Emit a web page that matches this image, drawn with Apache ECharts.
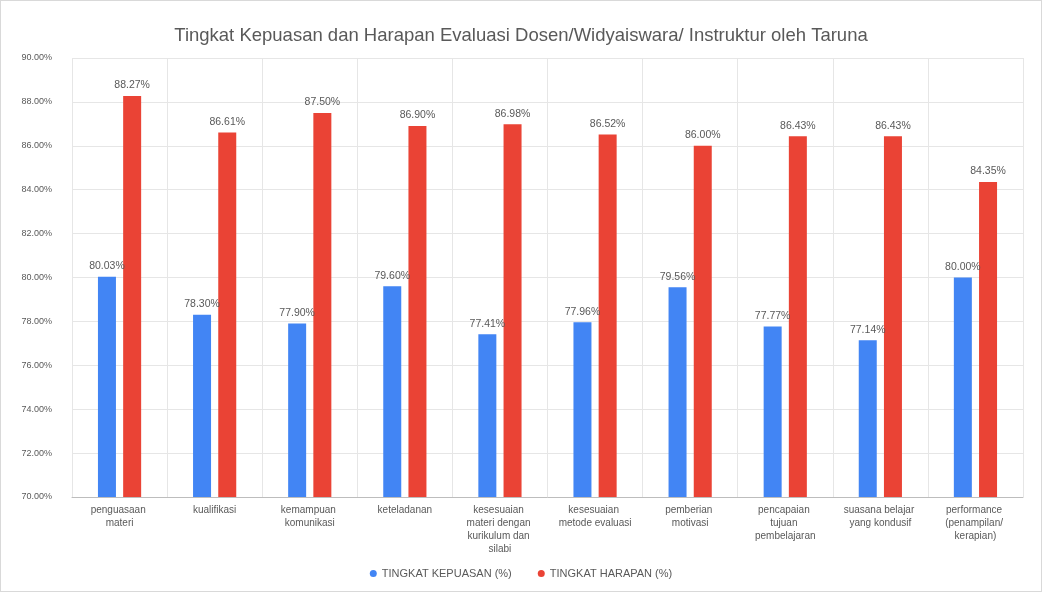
<!DOCTYPE html>
<html>
<head>
<meta charset="utf-8">
<script src="https://cdn.jsdelivr.net/npm/echarts@6/dist/echarts.min.js"></script>
<style>
  html, body { margin: 0; padding: 0; background: #fff; }
  #chart { width: 1040px; height: 590px; border: 1px solid #d9d9d9; }
</style>
</head>
<body>
<div id="chart"></div>
<script>
// data
var categories = [
    'penguasaan materi',
    'kualifikasi',
    'kemampuan komunikasi',
    'keteladanan',
    'kesesuaian materi dengan kurikulum dan silabi',
    'kesesuaian metode evaluasi',
    'pemberian motivasi',
    'pencapaian tujuan pembelajaran',
    'suasana belajar yang kondusif',
    'performance (penampilan/ kerapian)'
];
var kepuasan = [80.03, 78.30, 77.90, 79.60, 77.41, 77.96, 79.56, 77.77, 77.14, 80.00];
var harapan  = [88.27, 86.61, 87.50, 86.90, 86.98, 86.52, 86.00, 86.43, 86.43, 84.35];
var seriesNames = ['TINGKAT KEPUASAN (%)', 'TINGKAT HARAPAN (%)'];
var yTicks = { min: 70, max: 90, step: 2 };

var font = '"Liberation Sans", Arial, sans-serif';
var myChart = echarts.init(document.getElementById('chart'));

var pct = function(v){ return Number(v).toFixed(2) + '%'; };

var option = {
    animation: false,
    textStyle: { fontFamily: font },
    title: {
        text: 'Tingkat Kepuasan dan Harapan Evaluasi Dosen/Widyaiswara/ Instruktur oleh Taruna',
        left: 'center',
        top: 20,
        textStyle: { fontSize: 18.5, fontWeight: 'normal', color: '#595959', fontFamily: font }
    },
    legend: {
        bottom: 7,
        left: 'center',
        icon: 'circle',
        itemWidth: 7,
        itemHeight: 7,
        itemGap: 26,
        textStyle: { fontSize: 11, color: '#595959' },
        data: seriesNames
    },
    grid: { left: 71, right: 18, top: 57, bottom: 94 },
    xAxis: {
        type: 'category',
        data: categories,
        axisTick: { show: false },
        axisLine: { lineStyle: { color: '#bdbdbd' } },
        splitLine: { show: true, lineStyle: { color: '#e6e6e6' } },
        axisLabel: {
            interval: 0,
            fontSize: 10,
            color: '#595959',
            width: 78,
            overflow: 'break',
            lineHeight: 13,
            margin: 7
        }
    },
    yAxis: {
        type: 'value',
        min: yTicks.min,
        max: yTicks.max,
        interval: yTicks.step,
        axisLine: { show: false },
        axisTick: { show: false },
        splitLine: { lineStyle: { color: '#e6e6e6' } },
        axisLabel: {
            fontSize: 9,
            color: '#595959',
            margin: 20,
            formatter: function(v){ return pct(v); }
        }
    },
    series: [
        {
            name: seriesNames[0],
            type: 'bar',
            data: kepuasan,
            barWidth: 18,
            barGap: '40%',
            itemStyle: { color: '#4285f4' },
            label: {
                show: true,
                position: 'top',
                distance: 5,
                fontSize: 10.5,
                color: '#595959',
                formatter: function(p){ return pct(p.value); }
            }
        },
        {
            name: seriesNames[1],
            type: 'bar',
            data: harapan,
            barWidth: 18,
            itemStyle: { color: '#ea4335' },
            label: {
                show: true,
                position: 'top',
                distance: 5,
                fontSize: 10.5,
                color: '#595959',
                formatter: function(p){ return pct(p.value); }
            }
        }
    ]
};

myChart.setOption(option);
</script>
</body>
</html>
